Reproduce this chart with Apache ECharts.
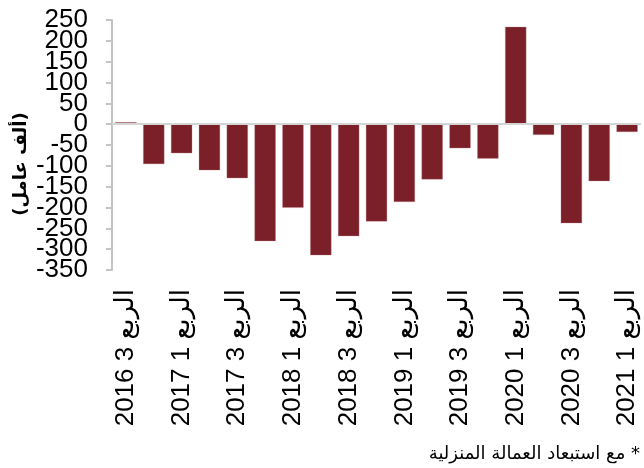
<!DOCTYPE html>
<html>
<head>
<meta charset="utf-8">
<script src="https://cdn.jsdelivr.net/npm/echarts@6/dist/echarts.min.js"></script>
<style>
html,body{margin:0;padding:0;background:#fff;}
#c{width:644px;height:468px;}
</style>
</head>
<body>
<div id="c"></div>
<script>
const categories = [
  'الربع 3 2016','الربع 4 2016',
  'الربع 1 2017','الربع 2 2017','الربع 3 2017','الربع 4 2017',
  'الربع 1 2018','الربع 2 2018','الربع 3 2018','الربع 4 2018',
  'الربع 1 2019','الربع 2 2019','الربع 3 2019','الربع 4 2019',
  'الربع 1 2020','الربع 2 2020','الربع 3 2020','الربع 4 2020',
  'الربع 1 2021'
];
const values = [5, -96, -70, -111, -130, -281, -201, -315, -269, -234, -187, -133, -58, -83, 234, -26, -238, -137, -19];
const yTicks = { min: -350, max: 250, interval: 50 };
const yAxisName = '(ألف عامل)';
const footnote = '\u200F* مع استبعاد العمالة المنزلية';

const chart = echarts.init(document.getElementById('c'), null, { renderer: 'canvas' });
const latin = "'Liberation Sans', Arial, 'DejaVu Sans', sans-serif";
const isEvenStep = v => Math.round((v - yTicks.min) / yTicks.interval) % 2 === 0;
const yLabelBase = { margin: 24, color: '#000', fontSize: 26, fontFamily: latin, hideOverlap: false };
chart.setOption({
  animation: false,
  backgroundColor: '#ffffff',
  grid: { left: 112, right: 3, top: 20, bottom: 198, containLabel: false },
  xAxis: [{
    type: 'category',
    data: categories,
    position: 'bottom',
    axisLine: { show: false, onZero: false },
    axisTick: { show: false },
    axisLabel: {
      interval: 1,
      rotate: 90,
      margin: 19,
      color: '#000',
      fontSize: 26,
      fontFamily: latin
    }
  }],
  yAxis: [{
    type: 'value',
    position: 'left',
    min: yTicks.min,
    max: yTicks.max,
    interval: yTicks.interval,
    axisLine: { show: true, onZero: false, lineStyle: { color: '#c4c4c4', width: 2 } },
    axisTick: { show: true, length: 6, lineStyle: { color: '#c4c4c4', width: 2 } },
    splitLine: { show: false },
    axisLabel: Object.assign({}, yLabelBase, {
      showMinLabel: true, showMaxLabel: true,
      formatter: v => isEvenStep(v) ? String(v) : ''
    })
  }, {
    type: 'value',
    position: 'left',
    min: yTicks.min,
    max: yTicks.max,
    interval: yTicks.interval,
    axisLine: { show: false },
    axisTick: { show: false },
    splitLine: { show: false },
    axisLabel: Object.assign({}, yLabelBase, {
      showMinLabel: false, showMaxLabel: false,
      formatter: v => isEvenStep(v) ? '' : String(v)
    })
  }],
  series: [{
    type: 'bar',
    data: values,
    yAxisIndex: 0,
    barCategoryGap: '23%',
    z: 3,
    itemStyle: { color: '#7b1f28', borderColor: 'rgba(200,140,146,0.55)', borderWidth: 0.6 },
    markLine: {
      silent: true,
      symbol: 'none',
      label: { show: false },
      emphasis: { disabled: true },
      lineStyle: { color: '#d4d4d4', width: 2, type: 'solid', opacity: 1 },
      data: [{ yAxis: 0 }]
    }
  }],
  graphic: [
    {
      type: 'text',
      x: 21, y: 164,
      rotation: Math.PI / 2,
      style: {
        text: yAxisName,
        font: "bold 18px 'DejaVu Sans', sans-serif",
        fill: '#000',
        textAlign: 'center',
        textVerticalAlign: 'middle'
      }
    },
    {
      type: 'text',
      x: 640, y: 454,
      style: {
        text: footnote,
        font: "18px 'DejaVu Sans', sans-serif",
        fill: '#000',
        textAlign: 'right',
        textVerticalAlign: 'middle'
      }
    }
  ]
});
</script>
</body>
</html>
